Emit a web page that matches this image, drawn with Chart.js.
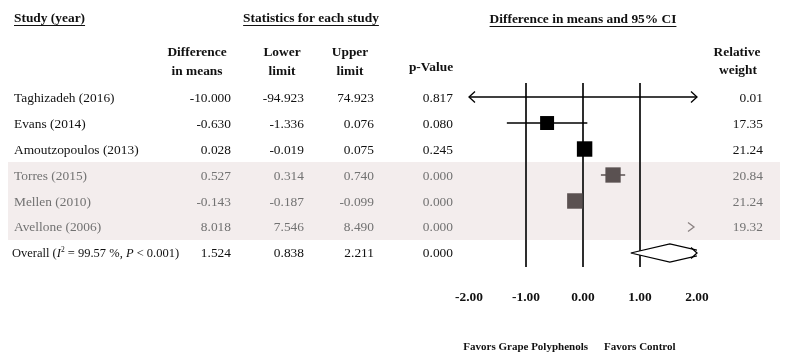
<!DOCTYPE html>
<html><head><meta charset="utf-8">
<script src="https://cdn.jsdelivr.net/npm/chart.js@4/dist/chart.umd.min.js"></script>
<style>html,body{margin:0;padding:0;background:#fff;}#wrap{width:787px;height:361px;}</style>
</head><body><div id="wrap"><canvas id="c" width="787" height="361"></canvas></div>
<script>
// ---- data ----
const studies = ['Taghizadeh (2016)', 'Evans (2014)', 'Amoutzopoulos (2013)', 'Torres (2015)', 'Mellen (2010)', 'Avellone (2006)'];
const diffMeans = [-10.000, -0.630, 0.028, 0.527, -0.143, 8.018];
const lowerLimits = [-94.923, -1.336, -0.019, 0.314, -0.187, 7.546];
const upperLimits = [74.923, 0.076, 0.075, 0.740, -0.099, 8.490];
const pValues = [0.817, 0.080, 0.245, 0.000, 0.000, 0.000];
const relWeights = [0.01, 17.35, 21.24, 20.84, 21.24, 19.32];
const shadedRows = [3, 4, 5];
const overallDiff = 1.524;
const overallLower = 0.838;
const overallUpper = 2.211;
const overallP = 0.000;
const overallI2 = '99.57 %';
const overallPText = '< 0.001';
const xTicks = [-2, -1, 0, 1, 2];
const refLines = [-1, 0, 1];

// ---- styles ----
const SERIF = '"Liberation Serif", "Times New Roman", serif';
const BLACK = '#111111';
const GRAY_MARK = '#5a5151';
const GRAY_TEXT = '#727272';
const BAND = '#f3eded';
const X_MIN = xTicks[0], X_MAX = xTicks[xTicks.length - 1];
const overallRow = studies.length;

const datasets = [];
// squares (drawn on top: first dataset)
datasets.push({
  label: 'Difference in means',
  data: diffMeans.map((d, i) => ({ x: d, y: i })),
  showLine: false,
  pointStyle: 'rect',
  pointRadius: c => 2.37 * Math.sqrt(relWeights[c.dataIndex]),
  pointBackgroundColor: c => shadedRows.includes(c.dataIndex) ? GRAY_MARK : '#000',
  pointBorderColor: c => shadedRows.includes(c.dataIndex) ? GRAY_MARK : '#000',
  pointBorderWidth: 0
});
// confidence intervals
studies.forEach((s, i) => {
  datasets.push({
    label: s + ' CI',
    data: [{ x: lowerLimits[i], y: i }, { x: upperLimits[i], y: i }],
    borderColor: shadedRows.includes(i) ? GRAY_MARK : '#000',
    borderWidth: 1.5,
    pointRadius: 0,
    fill: false
  });
});
// overall diamond
datasets.push({
  label: 'Overall',
  data: [
    { x: overallLower, y: overallRow },
    { x: overallDiff, y: overallRow - 0.35 },
    { x: overallUpper, y: overallRow },
    { x: overallDiff, y: overallRow + 0.35 },
    { x: overallLower, y: overallRow }
  ],
  borderColor: '#000',
  borderWidth: 1.2,
  backgroundColor: '#fff',
  fill: 'shape',
  pointRadius: 0
});

function chevron(ctx, x, y, dir, color, h) {
  h = h || 5.5;
  ctx.save();
  ctx.strokeStyle = color; ctx.lineWidth = 1.3;
  ctx.beginPath();
  ctx.moveTo(x - dir * 6, y - h);
  ctx.lineTo(x, y);
  ctx.lineTo(x - dir * 6, y + h);
  ctx.stroke();
  ctx.restore();
}
function text(ctx, s, x, y, align, font, color, baseline) {
  ctx.font = font; ctx.fillStyle = color; ctx.textAlign = align;
  ctx.textBaseline = baseline || 'middle';
  ctx.fillText(s, x, y);
}
function underlined(ctx, s, x, y, align, font) {
  text(ctx, s, x, y, align, font, BLACK, 'alphabetic');
  const w = ctx.measureText(s).width;
  let x0 = align === 'center' ? x - w / 2 : (align === 'right' ? x - w : x);
  ctx.strokeStyle = BLACK; ctx.lineWidth = 1.2;
  ctx.beginPath(); ctx.moveTo(x0, y + 3.5); ctx.lineTo(x0 + w, y + 3.5); ctx.stroke();
}

const forestPlugin = {
  id: 'forest',
  beforeDraw(chart) {
    const { ctx } = chart; const ys = chart.scales.y;
    ctx.save();
    ctx.fillStyle = '#fff'; ctx.fillRect(0, 0, chart.width, chart.height);
    const t = ys.getPixelForValue(Math.min(...shadedRows) - 0.5);
    const b = ys.getPixelForValue(Math.max(...shadedRows) + 0.5);
    ctx.fillStyle = BAND; ctx.fillRect(8, t, 772, b - t);
    ctx.restore();
  },
  afterDraw(chart) {
    const { ctx } = chart; const ys = chart.scales.y; const xs = chart.scales.x;
    ctx.save();
    const B = 'bold 13.4px ' + SERIF, R = '13.4px ' + SERIF;
    // headers
    underlined(ctx, 'Study (year)', 14, 22, 'left', B);
    underlined(ctx, 'Statistics for each study', 311, 22, 'center', B);
    underlined(ctx, 'Difference in means and 95% CI', xs.getPixelForValue(0), 23, 'center', B);
    text(ctx, 'Difference', 197, 56, 'center', B, BLACK, 'alphabetic');
    text(ctx, 'in means', 197, 75, 'center', B, BLACK, 'alphabetic');
    text(ctx, 'Lower', 282, 56, 'center', B, BLACK, 'alphabetic');
    text(ctx, 'limit', 282, 75, 'center', B, BLACK, 'alphabetic');
    text(ctx, 'Upper', 350, 56, 'center', B, BLACK, 'alphabetic');
    text(ctx, 'limit', 350, 75, 'center', B, BLACK, 'alphabetic');
    text(ctx, 'p-Value', 431, 71, 'center', B, BLACK, 'alphabetic');
    text(ctx, 'Relative', 737, 56, 'center', B, BLACK, 'alphabetic');
    text(ctx, 'weight', 738, 74, 'center', B, BLACK, 'alphabetic');
    // rows
    studies.forEach((s, i) => {
      const y = ys.getPixelForValue(i) + 1;
      const col = shadedRows.includes(i) ? GRAY_TEXT : BLACK;
      text(ctx, s, 14, y, 'left', R, col);
      text(ctx, diffMeans[i].toFixed(3), 231, y, 'right', R, col);
      text(ctx, lowerLimits[i].toFixed(3), 304, y, 'right', R, col);
      text(ctx, upperLimits[i].toFixed(3), 374, y, 'right', R, col);
      text(ctx, pValues[i].toFixed(3), 453, y, 'right', R, col);
      text(ctx, relWeights[i].toFixed(2), 763, y, 'right', R, col);
      const mcol = shadedRows.includes(i) ? GRAY_MARK : '#000';
      const yy = ys.getPixelForValue(i);
      const inside = lowerLimits[i] < X_MAX && upperLimits[i] > X_MIN;
      if (lowerLimits[i] < X_MIN && upperLimits[i] > X_MIN) chevron(ctx, xs.getPixelForValue(X_MIN), yy, -1, mcol);
      if (upperLimits[i] > X_MAX) {
        if (inside) chevron(ctx, xs.getPixelForValue(X_MAX), yy, 1, mcol);
        else chevron(ctx, xs.getPixelForValue(X_MAX) - 3, yy, 1, '#8a8282', 4.5);
      }
    });
    // overall row
    const oy = ys.getPixelForValue(overallRow);
    const fs = 12.5;
    const FR = fs + 'px ' + SERIF, FI = 'italic ' + fs + 'px ' + SERIF, FS = (fs * 0.6) + 'px ' + SERIF;
    let x = 12; const by = oy + 4.5;
    const piece = (s, f, dy) => { ctx.font = f; ctx.fillStyle = BLACK; ctx.textAlign = 'left'; ctx.textBaseline = 'alphabetic'; ctx.fillText(s, x, by + (dy || 0)); x += ctx.measureText(s).width; };
    piece('Overall (', FR); piece('I', FI); piece('2', FS, -5); piece(' = ' + overallI2 + ', ', FR); piece('P', FI); piece(' ' + overallPText + ')', FR);
    text(ctx, overallDiff.toFixed(3), 231, oy + 1, 'right', R, BLACK);
    text(ctx, overallLower.toFixed(3), 304, oy + 1, 'right', R, BLACK);
    text(ctx, overallUpper.toFixed(3), 374, oy + 1, 'right', R, BLACK);
    text(ctx, overallP.toFixed(3), 453, oy + 1, 'right', R, BLACK);
    if (overallUpper > X_MAX) chevron(ctx, xs.getPixelForValue(X_MAX), oy, 1, '#000');
    // footer
    const F = 'bold 11px ' + SERIF;
    text(ctx, 'Favors Grape Polyphenols', 588, 347, 'right', F, BLACK);
    text(ctx, 'Favors Control', 604, 347, 'left', F, BLACK);
    ctx.restore();
  }
};

new Chart(document.getElementById('c'), {
  type: 'line',
  data: { datasets },
  options: {
    responsive: false,
    animation: false,
    events: [],
    layout: { padding: { left: 469, right: 90, top: 83, bottom: 54 } },
    plugins: { legend: { display: false }, tooltip: { enabled: false } },
    scales: {
      x: {
        type: 'linear', min: X_MIN, max: X_MAX,
        afterBuildTicks: s => { s.ticks = xTicks.map(v => ({ value: v })); },
        ticks: { callback: v => Number(v).toFixed(2), font: { family: SERIF, size: 13.4, weight: 'bold' }, color: BLACK, padding: 23, maxRotation: 0, autoSkip: false },
        grid: { drawTicks: false, color: c => (c.tick && refLines.includes(c.tick.value)) ? '#2e2e2e' : 'rgba(0,0,0,0)', lineWidth: 2 },
        border: { display: false },
        afterFit: s => { s.height = 40; }
      },
      y: { type: 'linear', display: false, min: -0.54, max: overallRow + 0.54, reverse: true }
    }
  },
  plugins: [forestPlugin]
});
</script>
</body></html>
